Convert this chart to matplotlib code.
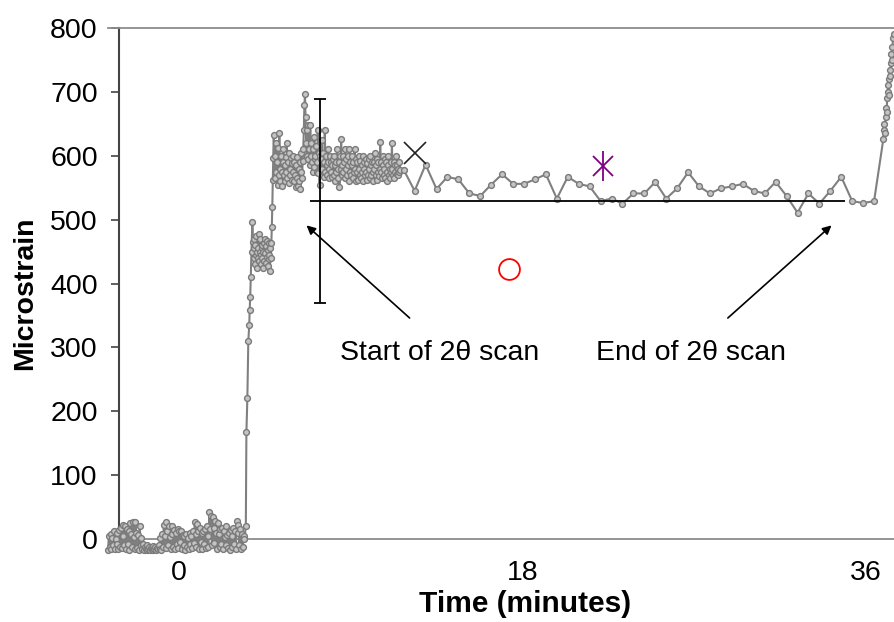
import numpy as np
import matplotlib
matplotlib.use("Agg")
import matplotlib.pyplot as plt

plt.rcParams['font.family'] = ['Liberation Sans', 'DejaVu Sans']

# ---------------- data ----------------
noise_vals = [-17, 5, -12, 8, -16, 2, -10, 12, -15, 0,
              -8, 10, -16, 14, -12, 18, -14, 22, 5, -10,
              20, -15, 15, -8, 12, -17, 25, 8, -12, 26,
              3, -16, 27, 10, -14, 6, -17, 20, -10, 2,
              -16, -8, -17, -12, -15, -17, -10, -16, -13, -17,
              -14, -16, -11, -17, -15, -12, -17, -14, -16, -9,
              -15, 2, -17, 8, -12, 22, 5, -14, 27, 12,
              -10, 20, 3, -15, 20, 8, -12, 14, -16, 10,
              -8, 15, -14, 12, -5, 13, -16, 6, -10, 4,
              -17, 8, -12, 2, -15, 10, -8, 5, -14, 12,
              -6, 26, 8, -13, 23, 12, -15, 18, -4, 10,
              -16, 12, -8, 16, -14, 20, 5, -12, 42, 15,
              36, -10, 34, 18, -6, 28, 10, -15, 25, 8,
              -12, 15, -8, 18, -16, 12, 3, -10, 20, 6,
              -14, 10, -17, 14, 5, -12, 18, -8, 12, -15,
              28, 10, 22, -10, 15, -16, 8, -12, 5, 0]
noise_t = (-3.7, 3.45)

rise_t = [3.52, 3.55, 3.6, 3.65, 3.7, 3.72, 3.75, 3.78, 3.82, 3.86]
rise_vals = [20, 167, 220, 310, 335, 358, 379, 410, 450, 497]

step1_vals = [465, 440, 470, 455, 430, 460, 445, 475, 450, 425,
              455, 440, 478, 435, 450, 470, 445, 430, 455, 460,
              440, 425, 450, 435, 463, 448, 470, 432, 458, 442,
              466, 428, 452, 438, 463, 445, 420, 455, 440, 463,
              489, 520, 562, 596, 632]
step1_t = (3.9, 4.98)

plateau_vals = [600, 565, 620, 575, 590, 555, 612, 570, 635, 580,
                560, 600, 575, 552, 590, 610, 570, 585, 560, 598,
                575, 620, 565, 590, 558, 605, 580, 570, 596, 562,
                588, 575, 600, 560, 590, 570, 551, 585, 565, 598,
                553, 580, 560, 590, 548, 575, 605, 565, 592, 610,
                640, 680, 696, 660, 620, 600, 640, 595, 648, 610,
                585, 648, 600, 620, 590, 575, 610, 582, 630, 595,
                600, 615, 575, 590, 640, 573, 605, 555, 600, 580,
                595, 625, 580, 605, 567, 590, 640, 575, 600, 585,
                570, 610, 590, 580, 565, 600, 575, 590, 567, 585,
                595, 570, 600, 585, 560, 590, 575, 610, 580, 565,
                590, 551, 600, 580, 627, 585, 570, 600, 575, 590,
                565, 610, 580, 595, 570, 600, 585, 560, 610, 575,
                590, 570, 585, 600, 565, 590, 575, 610, 580, 560,
                595, 575, 590, 562, 600, 580, 570, 592, 565, 585,
                575, 600, 560, 590, 580, 570, 595, 575, 562, 588,
                570, 595, 580, 565, 600, 585, 570, 590, 575, 560,
                590, 580, 605, 570, 585, 562, 595, 575, 590, 568,
                580, 621, 575, 590, 565, 585, 600, 570, 580, 595,
                565, 590, 575, 560, 585, 600, 570, 580, 565, 590,
                575, 620, 580, 570, 590, 565, 585, 575, 600, 572,
                585, 570, 580, 575, 590, 578]
plateau_t = (5.03, 11.6)

scan_vals = [578, 545, 586, 548, 567, 563, 541, 537, 555, 571, 556,
             556, 563, 571, 533, 567, 556, 552, 529, 533, 525,
             541, 541, 559, 533, 549, 574, 552, 541, 549, 552, 556,
             545, 541, 559, 537, 511, 541, 525, 545, 567, 529, 526, 529]
scan_t = (11.79, 36.43)

final_vals = [627, 640, 650, 635, 660, 675, 668, 690, 700, 710,
              695, 720, 735, 725, 745, 760, 750, 770, 785, 791]
final_t = (36.92, 37.45)

mean_strain = 529
strain_err = 160
mean_time = 7.39
line_start, line_end = 6.9, 34.9

x_point = (12.37, 604)
star_point = (22.24, 584)
circle_point = (17.28, 422)

start_label = 'Start of 2θ scan'
end_label = 'End of 2θ scan'
start_text_pos = (13.65, 292)
end_text_pos = (26.83, 292)
start_arrow = ((12.1, 346), (6.7, 491))
end_arrow = ((28.77, 346), (34.2, 491))

x_ticks = [0, 18, 36]
y_ticks = [0, 100, 200, 300, 400, 500, 600, 700, 800]

# build series
t = np.concatenate([
    np.linspace(*noise_t, len(noise_vals)),
    np.array(rise_t),
    np.linspace(*step1_t, len(step1_vals)),
    np.linspace(*plateau_t, len(plateau_vals)),
    np.linspace(*scan_t, len(scan_vals)),
    np.linspace(*final_t, len(final_vals)),
])
v = np.concatenate([noise_vals, rise_vals, step1_vals, plateau_vals, scan_vals, final_vals])

# ---------------- figure ----------------
fig = plt.figure(figsize=(8.95, 6.22), dpi=100)
W, H = 895, 622
left_px, right_px, top_px, bot_px = 108, 894.5, 28, 551.8
ax = fig.add_axes([left_px / W, (H - bot_px) / H, (right_px - left_px) / W, (bot_px - top_px) / H])
ax.set_xlim(-3.7, 37.5)
ax.set_ylim(-20, 800)

ax.axhline(0, color='#8c8c8c', lw=1.3, zorder=1)

ax.plot(t, v, color='#808080', lw=1.5, marker='o', markersize=4.2,
        markerfacecolor='#c4c4c4', markeredgecolor='#7a7a7a', markeredgewidth=1.0,
        zorder=3, clip_on=False)

# mean line and error bar
ax.hlines(mean_strain, line_start, line_end, color='black', lw=1.3, zorder=4)
ax.errorbar([mean_time], [mean_strain], yerr=[strain_err], fmt='none', ecolor='black',
            elinewidth=1.3, capsize=4.5, capthick=1.3, zorder=5)

# special markers
ax.plot([x_point[0]], [x_point[1]], marker='x', markersize=16, color='#222222',
        markeredgewidth=1.2, zorder=6)
ax.plot([star_point[0]], [star_point[1]], marker='x', markersize=15, color='#800080',
        markeredgewidth=1.3, zorder=6)
ax.plot([star_point[0]], [star_point[1]], marker='|', markersize=22, color='#800080',
        markeredgewidth=1.3, zorder=6)
ax.plot([circle_point[0]], [circle_point[1]], marker='o', markersize=15, markerfacecolor='none',
        markeredgecolor='#ff0000', markeredgewidth=1.3, zorder=6)

# annotations
arrow_kw = dict(arrowstyle='-|>', color='black', lw=1.2, mutation_scale=13,
                shrinkA=0, shrinkB=0)
ax.annotate('', xy=start_arrow[1], xytext=start_arrow[0], arrowprops=arrow_kw)
ax.annotate('', xy=end_arrow[1], xytext=end_arrow[0], arrowprops=arrow_kw)
ax.text(*start_text_pos, start_label, fontsize=20.5, ha='center', va='center', color='black')
ax.text(*end_text_pos, end_label, fontsize=20.5, ha='center', va='center', color='black')

# axes styling
for s in ['right', 'bottom']:
    ax.spines[s].set_visible(False)
ax.spines['top'].set_color('#8c8c8c')
ax.spines['top'].set_linewidth(1.3)
ax.spines['left'].set_position(('data', -3.14))
ax.spines['left'].set_bounds(0, 800)
ax.spines['left'].set_color('#444444')
ax.spines['left'].set_linewidth(1.5)

ax.set_yticks(y_ticks)
ax.set_xticks(x_ticks)
ax.tick_params(axis='y', direction='out', length=6, width=1.2, color='#444444',
               labelsize=20.5, pad=9)
ax.tick_params(axis='x', length=0, labelsize=20.5, pad=6)

ax.set_xlabel('Time (minutes)', fontsize=21.5, fontweight='bold')
ax.set_ylabel('Microstrain', fontsize=20.5, fontweight='bold')
ax.xaxis.set_label_coords(0.530, -0.072)
ax.yaxis.set_label_coords(-0.089, 0.494)

fig.savefig('out.png', dpi=100)
